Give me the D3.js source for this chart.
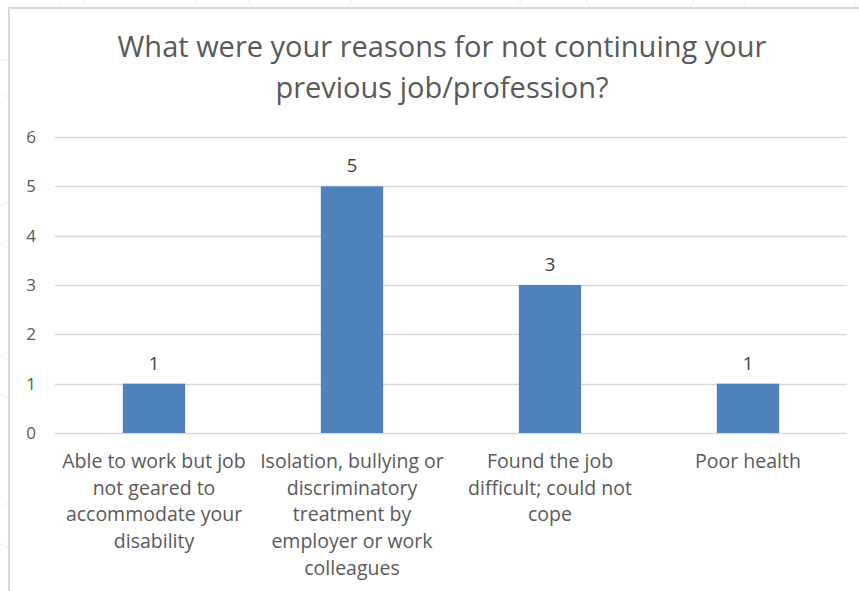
<!DOCTYPE html>
<html>
<head>
<meta charset="utf-8">
<script src="https://cdn.jsdelivr.net/npm/d3@7"></script>
<style>
  html, body { margin: 0; padding: 0; background: #ffffff; }
  svg { display: block; }
  text { font-family: "Open Sans", "Noto Sans", sans-serif; }
</style>
</head>
<body>
<svg id="chart" width="859" height="591"></svg>
<script>
// ---- data ----
const titleLines = ["What were your reasons for not continuing your", "previous job/profession?"];
const categories = [
  "Able to work but job not geared to accommodate your disability",
  "Isolation, bullying or discriminatory treatment by employer or work colleagues",
  "Found the job difficult; could not cope",
  "Poor health"
];
const categoryLines = [
  ["Able to work but job", "not geared to", "accommodate your", "disability"],
  ["Isolation, bullying or", "discriminatory", "treatment by", "employer or work", "colleagues"],
  ["Found the job", "difficult; could not", "cope"],
  ["Poor health"]
];
const values = [1, 5, 3, 1];
const yTicks = [0, 1, 2, 3, 4, 5, 6];

// ---- layout ----
const W = 859, H = 591;
const plot = { left: 55, right: 847, top: 137, bottom: 433 };
const svg = d3.select("#chart");

// faint decorative background outside the chart frame
const deco = svg.append("g").attr("fill", "none").attr("stroke", "#f3f0e8").attr("stroke-width", 1);
[[0, 0, 60], [140, -20, 60], [300, -30, 60], [470, -30, 60], [640, -25, 60], [800, -20, 60],
 [-20, 150, 60], [-20, 300, 60], [-20, 450, 60], [-20, 600, 60]].forEach(c => {
  deco.append("circle").attr("cx", c[0]).attr("cy", c[1]).attr("r", c[2]);
});

// chart frame
svg.append("rect")
  .attr("x", 9).attr("y", 8)
  .attr("width", W).attr("height", H)
  .attr("fill", "#ffffff")
  .attr("stroke", "#d9d9d9").attr("stroke-width", 2);

const x = d3.scaleBand()
  .domain(categories)
  .range([plot.left, plot.right])
  .paddingInner(0.685)
  .paddingOuter(0.3425);

const y = d3.scaleLinear()
  .domain([0, 6])
  .range([plot.bottom, plot.top]);

// gridlines
svg.append("g")
  .selectAll("line")
  .data(yTicks)
  .join("line")
  .attr("x1", plot.left).attr("x2", plot.right)
  .attr("y1", d => Math.round(y(d)) + 0.5).attr("y2", d => Math.round(y(d)) + 0.5)
  .attr("stroke", "#d9d9d9").attr("stroke-width", 1.5);

// y axis labels
const yAxis = d3.axisLeft(y).tickValues(yTicks).tickSize(0).tickPadding(0).tickFormat(d3.format("d"));
const yg = svg.append("g").attr("transform", `translate(${plot.left - 19},0)`).call(yAxis);
yg.select(".domain").remove();
yg.selectAll("text")
  .attr("fill", "#595959")
  .style("font-size", "17px")
  .style("font-family", "'Open Sans', sans-serif");

// bars
svg.append("g")
  .selectAll("rect")
  .data(values)
  .join("rect")
  .attr("x", (d, i) => x(categories[i]))
  .attr("y", d => y(d))
  .attr("width", x.bandwidth())
  .attr("height", d => y(0) - y(d))
  .attr("fill", "#4f81bd");

// data labels
svg.append("g")
  .selectAll("text")
  .data(values)
  .join("text")
  .attr("x", (d, i) => x(categories[i]) + x.bandwidth() / 2)
  .attr("y", d => y(d) - 14)
  .attr("text-anchor", "middle")
  .attr("fill", "#404040")
  .style("font-size", "18.5px")
  .text(d => d);

// category labels
const cg = svg.append("g");
categories.forEach((c, i) => {
  const t = cg.append("text")
    .attr("text-anchor", "middle")
    .attr("fill", "#595959")
    .style("font-size", "19.5px");
  categoryLines[i].forEach((ln, j) => {
    t.append("tspan")
      .attr("x", x(c) + x.bandwidth() / 2)
      .attr("y", 468 + j * 26.7)
      .text(ln);
  });
});

// title
const tt = svg.append("text")
  .attr("text-anchor", "middle")
  .attr("fill", "#595959")
  .style("font-size", "29px");
titleLines.forEach((ln, j) => {
  tt.append("tspan")
    .attr("x", (plot.left + plot.right) / 2 - 9)
    .attr("y", 57 + j * 41)
    .text(ln);
});
</script>
</body>
</html>
